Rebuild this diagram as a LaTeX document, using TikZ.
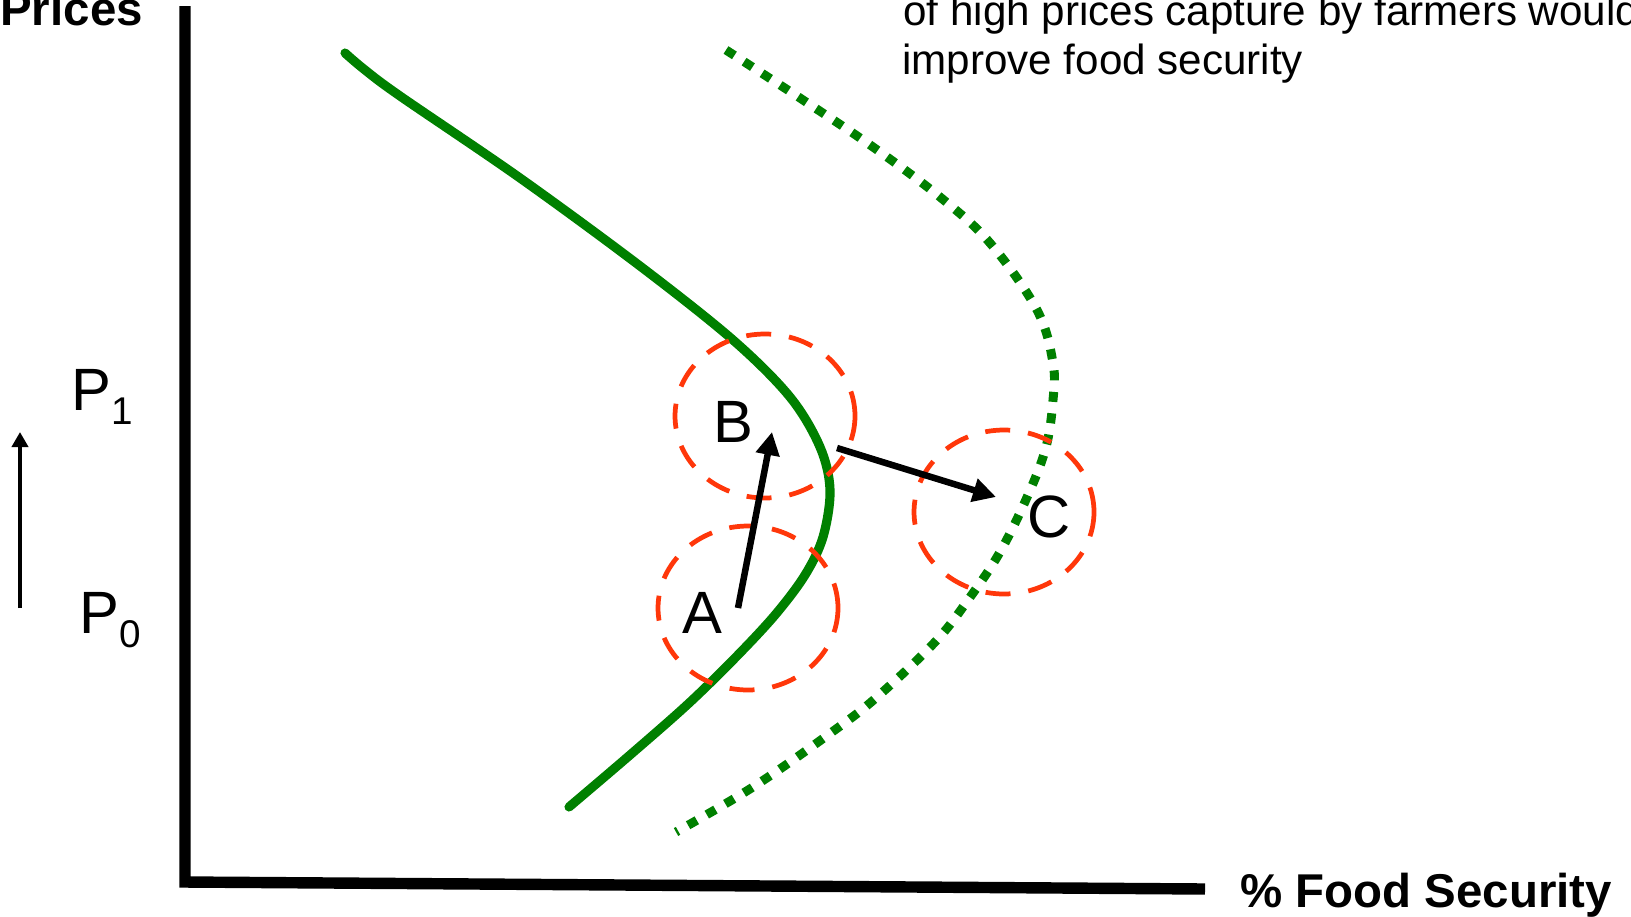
\documentclass[tikz,border=0pt]{standalone}
\usepackage{fontspec}
\setmainfont{Liberation Sans}
\usetikzlibrary{shapes.geometric, arrows.meta}

\definecolor{curvegreen}{RGB}{0,128,0}
\definecolor{zonered}{RGB}{255,55,10}

\begin{document}
\begin{tikzpicture}[x=0.02cm, y=-0.02cm, >={Triangle[length=0.46cm, width=0.46cm]},
    axis/.style={line width=6.5pt},
    supply/.style={line width=5.2pt, curvegreen, line cap=round},
    shifted/.style={line width=5.1pt, curvegreen, dash pattern=on 0.2cm off 0.23cm},
    zone/.style={ellipse, draw=zonered, line width=2.7pt, dash pattern=on 0.5cm off 0.36cm,
        minimum width=3.6cm, minimum height=3.28cm, inner sep=0pt},
    move/.style={->, line width=3.7pt},
    letter/.style={font=\fontsize{34pt}{40pt}\selectfont, inner sep=0pt, anchor=base west},
    title/.style={font=\fontsize{27pt}{32pt}\selectfont\bfseries, inner sep=0pt, anchor=base west},
    note/.style={font=\fontsize{24pt}{28pt}\selectfont, inner sep=0pt, anchor=base west}]
    \useasboundingbox (0,0) rectangle (1631,916);
    \begin{scope}
    \clip (0,0) rectangle (1631,916);

    % Axes
    \coordinate (ytop) at (185,6);
    \coordinate (origin) at (185,882);
    \coordinate (xend) at (1205,889);
    \draw[axis] (ytop) -- (origin) -- (xend);
    \node[title] (prices) at (0,25) {Prices};
    \node[title] (food) at (1240,907) {\% Food Security};

    % Price levels
    \node[letter] (p1) at (71,410) {P\raisebox{-8.5pt}{\fontsize{22pt}{24pt}\selectfont 1}};
    \node[letter] (p0) at (79,633) {P\raisebox{-8.5pt}{\fontsize{22pt}{24pt}\selectfont 0}};
    \coordinate (rise-low) at (20,608);
    \coordinate (rise-high) at (20,432);
    \draw[->, line width=2.8pt, >={Triangle[length=0.3cm, width=0.32cm]}] (rise-low) -- (rise-high);

    % Curves
    \draw[supply] plot[smooth, tension=0.55] coordinates {(345,53) (365,70) (400,96) (520,178)
        (640,266) (733,340) (790,397) (820,447) (830,490) (823,537) (805,575) (775,615)
        (735,658) (688,704) (630,755) (569,807)};
    \draw[shifted] plot[smooth, tension=0.6] coordinates {(726,50) (803,100) (873,147) (940,197)
        (990,243) (1037,310) (1053,363) (1053,400) (1046,447) (1028,495) (1000,552)
        (968,600) (935,642) (877,697) (832,732) (753,787) (676,832)};

    % Zones
    \node[zone] (zoneB) at (765,416) {};
    \node[zone] (zoneA) at (748,608) {};
    \node[zone] (zoneC) at (1004,512) {};
    \node[letter] (A) at (682,633) {A};
    \node[letter] (B) at (713,442) {B};
    \node[letter] (C) at (1027,537) {C};

    % Moves
    \coordinate (a-tail) at (738,608);
    \coordinate (b-head) at (772,432);
    \coordinate (b-tail) at (837,448);
    \coordinate (c-head) at (996,497);
    \draw[move] (a-tail) -- (b-head);
    \draw[move] (b-tail) -- (c-head);

    % Note
    \node[note] (note1) at (903,25) {of high prices capture by farmers would};
    \node[note] (note2) at (902,74) {improve food security};
    \end{scope}
\end{tikzpicture}
\end{document}
